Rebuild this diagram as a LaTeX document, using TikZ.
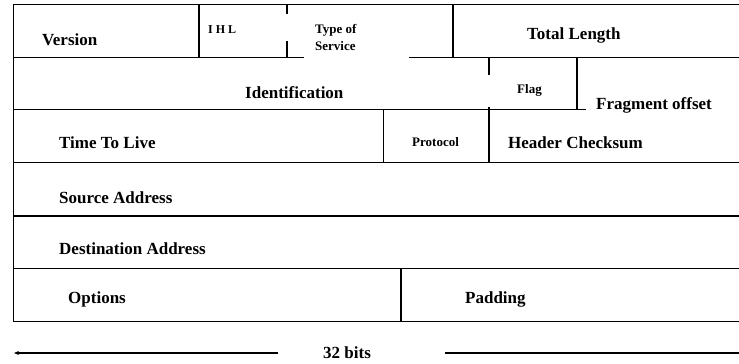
\documentclass[tikz,border=0pt]{standalone}
\usepackage{fontspec}
\setmainfont{Liberation Serif}
\usetikzlibrary{arrows.meta}
\tikzset{
  frame/.style={line width=1.2pt, line cap=rect},
  big/.style={anchor=base west, inner sep=0pt, font=\fontsize{17}{19}\selectfont\bfseries},
  small/.style={anchor=base west, inner sep=0pt, font=\fontsize{13}{14}\selectfont\bfseries},
  tiny/.style={anchor=base west, inner sep=0pt, font=\fontsize{12}{13}\selectfont\bfseries},
}
\begin{document}
\begin{tikzpicture}[x=1pt,y=-1pt]
\useasboundingbox (0,0) rectangle (739,364);
% grid lines
\draw[frame] (739,4.7) -- (13.5,4.7) -- (13.5,321.5) -- (739,321.5);
\draw[frame] (13.5,57.3) -- (303,57.3);
\draw[frame] (410,57.3) -- (739,57.3);
\draw[frame] (199,4.7) -- (199,57.3);
\draw[frame] (287,4.7) -- (287,13);
\draw[frame] (287,42) -- (287,57.3);
\draw[frame] (453,4.7) -- (453,57.3);
\draw[frame] (489,57.3) -- (489,74.3);
\draw[frame] (577,57.3) -- (577,109.7) -- (585,109.7);
\draw[frame] (13.5,109.7) -- (577,109.7);
\draw[frame] (489,107.7) -- (489,162.5);
\draw[frame] (383.3,109.7) -- (383.3,162.5);
\draw[frame] (13.5,162.5) -- (739,162.5);
\draw[frame] (13.5,216) -- (739,216);
\draw[frame] (13.5,268.3) -- (739,268.3);
\draw[frame] (401,268.3) -- (401,321.5);
% labels
\node[big] (version) at (42,45.6) {Version};
\node[tiny] (ihl) at (208,33.3) {I H L};
\node[small] (tos1) at (315,33.3) {Type of};
\node[small] (tos2) at (315,50.3) {Service};
\node[big] (total) at (527,39.5) {Total Length};
\node[big] (ident) at (245,98.3) {Identification};
\node[small] (flag) at (517,93.3) {Flag};
\node[big] (frag) at (596,109.8) {Fragment offset};
\node[big] (ttl) at (59,148.6) {Time To Live};
\node[small] (proto) at (412,146.3) {Protocol};
\node[big] (hcs) at (508,148.6) {Header Checksum};
\node[big] (src) at (59,203.6) {Source Address};
\node[big] (dst) at (59,254.6) {Destination Address};
\node[big] (opt) at (68,303.6) {Options};
\node[big] (pad) at (465,303.6) {Padding};
\node[big] (bits) at (323,358.6) {32 bits};
% width arrow
\coordinate (la) at (278,353);
\coordinate (lb) at (14,353);
\coordinate (ra) at (445,353);
\coordinate (rb) at (739,353);
\draw[line width=1.2pt, -{Stealth[length=5pt,width=4pt]}] (la) -- (lb);
\draw[line width=1.2pt] (ra) -- (rb);
\end{tikzpicture}
\end{document}
